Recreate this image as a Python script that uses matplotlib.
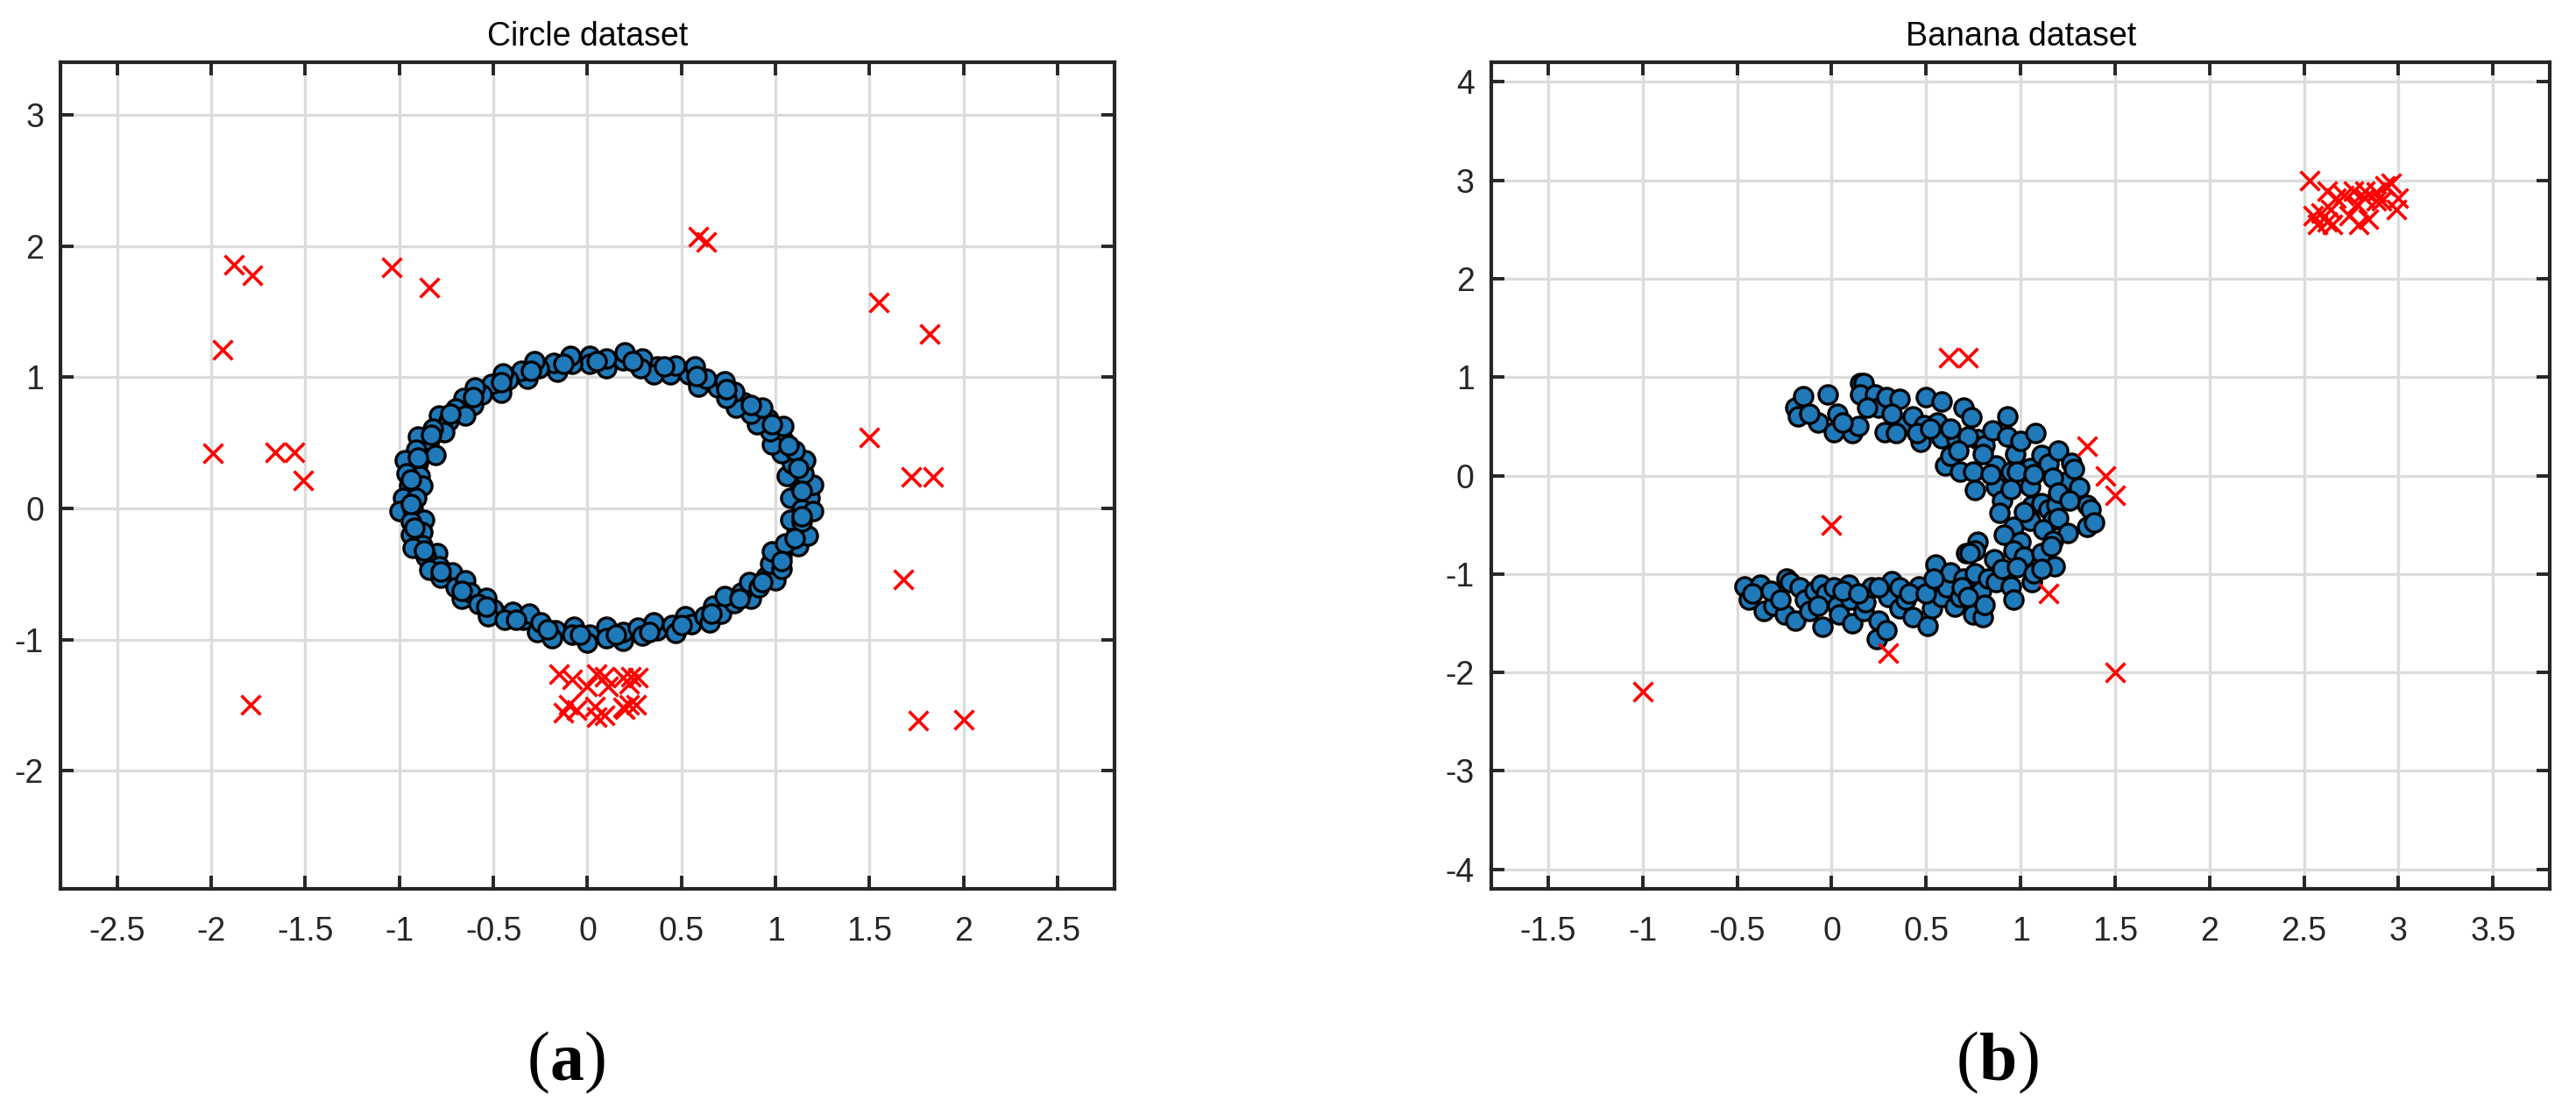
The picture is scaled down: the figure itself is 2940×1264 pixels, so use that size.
import numpy as np
import matplotlib
matplotlib.use("Agg")
import matplotlib.pyplot as plt

plt.rcParams['font.family'] = ['Liberation Sans', 'DejaVu Sans']

# circle dataset: normal points (blue)
circle_in = [
    (1.08, 0.08), (1.18, 0.08), (1.13, 0.17), (1.20, 0.18), (1.06, 0.25), (1.15, 0.27),
    (1.09, 0.34), (1.16, 0.37), (1.03, 0.42), (1.10, 0.44), (1.04, 0.52), (0.98, 0.49),
    (0.97, 0.59), (1.04, 0.63), (0.96, 0.68), (0.90, 0.64), (0.87, 0.72), (0.93, 0.77),
    (0.83, 0.81), (0.79, 0.77), (0.78, 0.89), (0.74, 0.84), (0.69, 0.92), (0.73, 0.97),
    (0.59, 0.93), (0.63, 0.99), (0.54, 1.02), (0.57, 1.08), (0.44, 1.02), (0.47, 1.09),
    (0.37, 1.08), (0.35, 1.02), (0.29, 1.14), (0.28, 1.07), (0.19, 1.13), (0.20, 1.19),
    (0.10, 1.07), (0.10, 1.14),
    (0.01, 1.16), (0.01, 1.10), (-0.08, 1.10), (-0.09, 1.16), (-0.16, 1.04), (-0.18, 1.11),
    (-0.26, 1.07), (-0.28, 1.12), (-0.32, 0.99), (-0.35, 1.05), (-0.42, 0.98), (-0.45, 1.03),
    (-0.46, 0.88), (-0.51, 0.95), (-0.56, 0.87), (-0.60, 0.92), (-0.61, 0.79), (-0.66, 0.84),
    (-0.70, 0.76), (-0.65, 0.71), (-0.79, 0.71), (-0.74, 0.67), (-0.76, 0.58), (-0.82, 0.61),
    (-0.84, 0.52), (-0.90, 0.55), (-0.81, 0.41), (-0.91, 0.45), (-0.90, 0.35), (-0.97, 0.37),
    (-0.89, 0.25), (-0.96, 0.27), (-0.95, 0.17), (-0.88, 0.17), (-0.98, 0.08), (-0.91, 0.08),
    (-1.00, -0.02), (-0.93, -0.01), (-0.87, -0.09), (-0.94, -0.10), (-0.94, -0.20), (-0.88, -0.18),
    (-0.88, -0.28), (-0.93, -0.30), (-0.80, -0.34), (-0.86, -0.37), (-0.79, -0.44), (-0.84, -0.47),
    (-0.72, -0.49), (-0.78, -0.53), (-0.70, -0.60), (-0.65, -0.55), (-0.67, -0.69), (-0.62, -0.64),
    (-0.54, -0.68), (-0.58, -0.73), (-0.50, -0.77), (-0.53, -0.82), (-0.40, -0.79), (-0.44, -0.85),
    (-0.34, -0.85), (-0.31, -0.80), (-0.27, -0.94), (-0.25, -0.87), (-0.17, -0.93), (-0.19, -0.99),
    (-0.07, -0.90), (-0.08, -0.96), (0.01, -0.96), (0.00, -1.02), (0.10, -0.90), (0.10, -0.99),
    (0.19, -1.01), (0.19, -0.94), (0.27, -0.91), (0.29, -0.97), (0.37, -0.93), (0.35, -0.87),
    (0.45, -0.89), (0.47, -0.95), (0.52, -0.82), (0.55, -0.88), (0.62, -0.82), (0.65, -0.87),
    (0.67, -0.74), (0.71, -0.80), (0.78, -0.72), (0.73, -0.67), (0.87, -0.69), (0.82, -0.64),
    (0.86, -0.56), (0.91, -0.60), (0.95, -0.52), (1.00, -0.55), (0.97, -0.42), (1.03, -0.46),
    (1.03, -0.36), (0.98, -0.33), (1.12, -0.29), (1.05, -0.27), (1.11, -0.19), (1.17, -0.21),
    (1.08, -0.09), (1.14, -0.10), (1.14, -0.01), (1.20, -0.02),
    (1.14, 0.13), (1.12, 0.31), (1.07, 0.48), (0.98, 0.64), (0.87, 0.79), (0.74, 0.91),
    (0.58, 1.01), (0.41, 1.08), (0.24, 1.12), (0.05, 1.12), (-0.13, 1.10), (-0.30, 1.05),
    (-0.46, 0.96), (-0.61, 0.85), (-0.73, 0.72), (-0.83, 0.56), (-0.90, 0.39), (-0.94, 0.22),
    (-0.94, 0.03), (-0.92, -0.15), (-0.87, -0.32), (-0.78, -0.48), (-0.67, -0.63), (-0.54, -0.75),
    (-0.38, -0.85), (-0.21, -0.92), (-0.04, -0.96), (0.15, -0.96), (0.33, -0.94), (0.50, -0.89),
    (0.66, -0.80), (0.81, -0.69), (0.93, -0.56), (1.03, -0.40), (1.10, -0.23), (1.14, -0.06),
]

# circle dataset: outliers (red)
circle_out = [
    (-1.88, 1.86), (-1.78, 1.78), (-1.04, 1.84), (-0.84, 1.68), (0.59, 2.07), (0.63, 2.03),
    (1.55, 1.57), (1.82, 1.33), (-1.94, 1.21), (-1.99, 0.42), (-1.66, 0.43), (-1.56, 0.43),
    (-1.51, 0.21), (1.50, 0.54), (1.72, 0.24), (1.84, 0.24), (1.68, -0.54), (-1.79, -1.50),
    (1.76, -1.62), (2.00, -1.61),
    (-0.15, -1.26), (-0.08, -1.30), (0.00, -1.36), (0.05, -1.26), (0.09, -1.28), (0.11, -1.36),
    (0.19, -1.29), (0.23, -1.28), (0.27, -1.29), (0.22, -1.34), (-0.13, -1.56), (-0.10, -1.50),
    (-0.06, -1.54), (0.04, -1.51), (0.05, -1.59), (0.09, -1.58), (0.19, -1.52), (0.22, -1.50),
    (0.26, -1.50), (0.20, -1.53),
]

# banana dataset: normal points (blue)
banana_in = [
    (-0.19, 0.69), (-0.15, 0.81), (-0.18, 0.60), (-0.07, 0.54), (-0.02, 0.82), (0.01, 0.44),
    (0.03, 0.63), (0.11, 0.43), (0.14, 0.50), (0.15, 0.94), (0.17, 0.94), (0.15, 0.82),
    (0.23, 0.82), (0.25, 0.69), (0.28, 0.44), (0.29, 0.80), (0.36, 0.78), (0.39, 0.51),
    (0.43, 0.60), (0.47, 0.34), (0.50, 0.80), (0.49, 0.51), (0.56, 0.54), (0.58, 0.75),
    (0.58, 0.38), (0.60, 0.10), (0.63, 0.20), (0.66, 0.37), (0.68, 0.04), (0.70, 0.69),
    (0.74, 0.59), (0.75, 0.04), (0.76, -0.15), (0.77, 0.37), (0.81, 0.31), (0.85, 0.46),
    (0.87, 0.10), (0.93, 0.60), (0.93, 0.40), (0.97, 0.22), (0.95, 0.04), (1.00, 0.35),
    (1.05, 0.08), (1.08, 0.43), (1.11, 0.21), (1.15, 0.12), (1.20, 0.25), (1.23, -0.07),
    (1.27, 0.13), (1.28, 0.07), (1.31, -0.12),
    (0.87, -0.11), (0.90, -0.25), (0.95, -0.14), (1.05, -0.11), (1.06, -0.31), (1.11, -0.28),
    (1.15, -0.34), (1.17, -0.45), (1.19, -0.30), (1.20, -0.43), (1.35, -0.30), (1.37, -0.34),
    (1.35, -0.52), (1.39, -0.48), (0.89, -0.38), (0.96, -0.52), (1.05, -0.46), (1.12, -0.55),
    (1.25, -0.58), (1.17, -0.66), (1.02, -0.37), (0.91, -0.60), (1.00, -0.67), (0.96, -0.76),
    (1.02, -0.82), (1.11, -0.79), (1.16, -0.72), (1.18, -0.92), (0.77, -0.67), (0.76, -0.76),
    (0.71, -0.79),
    (-0.46, -1.13), (-0.44, -1.26), (-0.38, -1.11), (-0.36, -1.38), (-0.31, -1.32), (-0.25, -1.41),
    (-0.24, -1.05), (-0.22, -1.08), (-0.19, -1.47), (-0.17, -1.14), (-0.14, -1.26), (-0.09, -1.17),
    (-0.06, -1.11), (-0.05, -1.54), (-0.03, -1.20), (0.03, -1.32), (0.04, -1.41), (0.09, -1.11),
    (0.10, -1.26), (0.11, -1.50), (0.17, -1.38), (0.18, -1.29), (0.21, -1.14), (0.24, -1.66),
    (0.25, -1.47), (0.29, -1.57), (0.30, -1.23), (0.32, -1.07), (0.36, -1.35), (0.39, -1.26),
    (0.43, -1.44), (0.46, -1.13), (0.51, -1.53), (0.53, -1.35), (0.55, -0.90), (0.58, -1.23),
    (0.61, -1.14), (0.63, -0.98), (0.65, -1.33), (0.68, -1.23), (0.70, -1.05), (0.73, -0.79),
    (0.75, -1.41), (0.76, -0.99), (0.79, -1.17), (0.80, -1.44), (0.81, -1.31), (0.83, -1.05),
    (0.86, -0.85), (0.87, -1.08), (0.90, -0.95), (0.95, -1.13), (0.96, -1.26), (0.98, -0.93),
    (1.06, -1.08), (1.07, -0.99), (1.11, -0.95),
    (-0.42, -1.20), (-0.32, -1.17), (-0.27, -1.26), (-0.12, -1.38), (-0.07, -1.32), (0.01, -1.14),
    (0.06, -1.17), (0.14, -1.20), (0.25, -1.14), (0.36, -1.14), (0.41, -1.20), (0.50, -1.20),
    (0.54, -1.05), (0.69, -1.14), (0.72, -1.23),
    (-0.12, 0.63), (0.06, 0.54), (0.19, 0.69), (0.32, 0.63), (0.34, 0.43), (0.45, 0.43),
    (0.52, 0.48), (0.63, 0.48), (0.72, 0.40), (0.67, 0.25), (0.80, 0.22), (0.84, 0.01),
    (0.98, 0.04), (1.07, 0.01), (1.17, -0.02), (1.20, -0.17), (1.26, -0.25),
]

# banana dataset: outliers (red)
banana_out = [
    (-1.00, -2.20), (0.00, -0.50), (0.30, -1.80), (0.62, 1.20), (0.72, 1.20), (1.35, 0.30),
    (1.45, 0.00), (1.50, -0.20), (1.15, -1.20), (1.50, -2.00),
    (2.53, 3.00), (2.62, 2.89), (2.67, 2.82), (2.76, 2.89), (2.82, 2.89), (2.88, 2.88),
    (2.93, 2.94), (2.96, 2.97), (3.00, 2.82), (2.99, 2.70), (2.91, 2.79), (2.82, 2.82),
    (2.71, 2.85), (2.55, 2.64), (2.57, 2.55), (2.62, 2.58), (2.65, 2.55), (2.64, 2.70),
    (2.74, 2.64), (2.79, 2.55), (2.84, 2.61), (2.59, 2.67), (2.88, 2.79), (2.78, 2.76),
]

titles = ["Circle dataset", "Banana dataset"]
panel_letters = ["a", "b"]
xticks_list = [np.arange(-2.5, 2.51, 0.5), np.arange(-1.5, 3.51, 0.5)]
yticks_list = [np.arange(-2, 3.1, 1), np.arange(-4, 4.1, 1)]
xlims = [(-2.8, 2.8), (-1.8, 3.8)]
ylims = [(-2.9, 3.4), (-4.2, 4.2)]

fig = plt.figure(figsize=(14.7, 6.32), dpi=200)
ax1 = fig.add_axes([0.0236, 0.1978, 0.4089, 0.7460])
ax2 = fig.add_axes([0.5790, 0.1978, 0.4108, 0.7460])

dark = '#262626'


def fmt(v):
    s = ('%g' % v)
    return '0' if s == '-0' else s


for ax, normal, outl, title, xt, yt, xl, yl in zip(
        [ax1, ax2], [circle_in, banana_in], [circle_out, banana_out],
        titles, xticks_list, yticks_list, xlims, ylims):
    normal = np.array(normal)
    outl = np.array(outl)
    ax.scatter(normal[:, 0], normal[:, 1], s=58, c='#2079b8', edgecolors='black',
               linewidths=1.2, zorder=3)
    ax.scatter(outl[:, 0], outl[:, 1], s=62, c='red', marker='x', linewidths=1.3, zorder=4)
    ax.set_xlim(*xl)
    ax.set_ylim(*yl)
    ax.set_xticks(xt)
    ax.set_yticks(yt)
    ax.set_xticklabels([fmt(v) for v in xt])
    ax.set_yticklabels([fmt(v) for v in yt])
    ax.set_axisbelow(True)
    ax.grid(True, color='#dcdcdc', linewidth=1.2)
    ax.tick_params(direction='in', top=True, right=True, length=5.5, width=1.4,
                   colors=dark, labelsize=13.5)
    ax.tick_params(axis='x', pad=11)
    ax.tick_params(axis='y', pad=7)
    for sp in ax.spines.values():
        sp.set_linewidth(1.5)
        sp.set_color(dark)
    ax.set_title(title, fontsize=13.5, color='black', pad=7)

# panel labels (a), (b): regular parentheses, bold letter
serif = ['Liberation Serif', 'DejaVu Serif']
for x0, letter in zip([0.2048, 0.7595], panel_letters):
    t1 = fig.text(x0, 0.026, "(", fontsize=28, family=serif, va='baseline', ha='left')
    a2 = plt.annotate(letter, xy=(1, 0), xycoords=t1, va='bottom', ha='left',
                      fontsize=28, family=serif, fontweight='bold', annotation_clip=False)
    plt.annotate(")", xy=(1, 0), xycoords=a2, va='bottom', ha='left',
                 fontsize=28, family=serif, annotation_clip=False)

fig.savefig('out.png', dpi=200)
